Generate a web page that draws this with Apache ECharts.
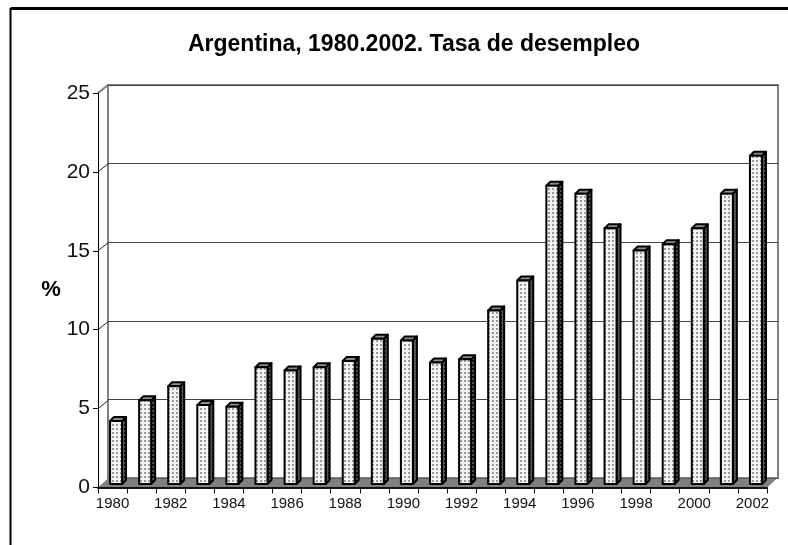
<!DOCTYPE html>
<html>
<head>
<meta charset="utf-8">
<style>
html, body { margin: 0; background: #fff; }
#chart { width: 788px; height: 545px; }
</style>
<script src="https://cdn.jsdelivr.net/npm/echarts@6/dist/echarts.min.js"></script>
</head>
<body>
<div id="chart"></div>
<script>
const years = ['1980','1981','1982','1983','1984','1985','1986','1987','1988','1989','1990','1991',
  '1992','1993','1994','1995','1996','1997','1998','1999','2000','2001','2002']
const desempleo = [4.0,5.3,6.2,5.0,4.9,7.4,7.2,7.4,7.8,9.2,9.1,7.7,7.9,11.0,12.9,18.9,18.4,16.2,14.8,15.2,16.2,18.4,20.8]
const yTicks = [5,10,15,20,25]

// 3D look of the old spreadsheet chart
const DEPTH_X = 10
const DEPTH_Y = 8
const FONT = '"Liberation Sans", Arial, sans-serif'

function dots (bg, dot) {
  const c = document.createElement('canvas')
  c.width = 4
  c.height = 4
  const ctx = c.getContext('2d')
  ctx.fillStyle = bg
  ctx.fillRect(0, 0, 4, 4)
  ctx.fillStyle = dot
  ctx.fillRect(0, 0, 2, 2)
  return { image: c, repeat: 'repeat' }
}
const frontFill = dots('#f2f2f2', '#999999')
const sideFill = dots('#555555', '#111111')

function renderBar (params, api) {
  const i = api.value(0)
  const top = api.coord([i, api.value(1)])
  const base = api.coord([i, 0])
  const x = top[0] - 2.5
  const w = 12
  const d = 4
  const yTop = top[1] - 3.5
  const yBase = base[1] - 3.5
  const line = { stroke: '#000', lineWidth: 2, lineJoin: 'round' }
  return {
    type: 'group',
    children: [
      {
        type: 'polygon',
        shape: { points: [[x + w, yTop], [x + w + d, yTop - d], [x + w + d, yBase - d], [x + w, yBase]] },
        style: { fill: sideFill, ...line }
      },
      {
        type: 'polygon',
        shape: { points: [[x, yTop], [x + d, yTop - d], [x + w + d, yTop - d], [x + w, yTop]] },
        style: { fill: '#8c8c8c', ...line }
      },
      {
        type: 'rect',
        shape: { x: x, y: yTop, width: w, height: yBase - yTop },
        style: { fill: frontFill, ...line }
      }
    ]
  }
}

function renderFloor (params, api) {
  const g = params.coordSys
  const yb = api.coord([0, 0])[1]
  return {
    type: 'polygon',
    shape: {
      points: [[g.x, yb], [g.x + g.width, yb], [g.x + g.width + DEPTH_X, yb - DEPTH_Y - 1], [g.x + DEPTH_X, yb - DEPTH_Y - 1]]
    },
    style: { fill: '#808080' }
  }
}

function renderDiagonal (params, api) {
  const g = params.coordSys
  const v = api.value(1)
  const y = api.coord([0, v])[1]
  const isTop = v === 25
  return {
    type: 'line',
    shape: { x1: g.x, y1: y, x2: g.x + DEPTH_X, y2: y - DEPTH_Y },
    style: { stroke: isTop ? '#808080' : '#222', lineWidth: isTop ? 2 : 1 }
  }
}

const chart = echarts.init(document.getElementById('chart'), null, { renderer: 'canvas' })

chart.setOption({
  animation: false,
  backgroundColor: '#fff',
  title: {
    text: 'Argentina, 1980.2002. Tasa de desempleo',
    left: 409,
    top: 28,
    textAlign: 'center',
    textStyle: { fontFamily: FONT, fontWeight: 'bold', fontSize: 23, color: '#000' }
  },
  graphic: [
    { type: 'line', shape: { x1: 10.5, y1: 8.5, x2: 788, y2: 8.5 }, style: { stroke: '#000', lineWidth: 3 } },
    { type: 'line', shape: { x1: 10.5, y1: 8, x2: 10.5, y2: 545 }, style: { stroke: '#000', lineWidth: 2 } }
  ],
  grid: [
    { left: 98, top: 93, width: 669, height: 394.5 },
    { left: 108, top: 85, width: 670, height: 393, show: true, borderColor: '#808080', borderWidth: 2, backgroundColor: '#fff' }
  ],
  xAxis: [
    {
      type: 'category',
      data: years,
      gridIndex: 0,
      z: 5,
      axisLine: { lineStyle: { color: '#111', width: 2 } },
      axisTick: { show: true, interval: 0, length: 6, alignWithLabel: false, lineStyle: { color: '#111' } },
      axisLabel: { interval: 1, margin: 9, fontFamily: FONT, fontSize: 15, color: '#111' }
    },
    {
      type: 'category',
      data: years,
      gridIndex: 1,
      show: false
    }
  ],
  yAxis: [
    {
      type: 'value',
      gridIndex: 0,
      min: 0,
      max: 25,
      interval: 5,
      z: 5,
      name: '%',
      nameLocation: 'middle',
      nameRotate: 0,
      nameGap: 35,
      nameTextStyle: { fontFamily: FONT, fontWeight: 'bold', fontSize: 22, color: '#000' },
      splitLine: { show: false },
      axisLine: { show: true, lineStyle: { color: '#000', width: 1 } },
      axisTick: { show: true, length: 5, lineStyle: { color: '#000' } },
      axisLabel: { margin: 8, fontFamily: FONT, fontSize: 21, color: '#111' }
    },
    {
      type: 'value',
      gridIndex: 1,
      min: 0,
      max: 25,
      interval: 5,
      axisLabel: { show: false },
      axisTick: { show: false },
      axisLine: { show: false },
      splitLine: { show: true, lineStyle: { color: '#444', width: 1 } }
    }
  ],
  series: [
    {
      type: 'custom',
      name: 'piso',
      renderItem: renderFloor,
      xAxisIndex: 0,
      yAxisIndex: 0,
      clip: false,
      z: 1,
      data: [[0, 0]]
    },
    {
      type: 'custom',
      name: 'diagonales',
      renderItem: renderDiagonal,
      xAxisIndex: 0,
      yAxisIndex: 0,
      clip: false,
      z: 2,
      data: yTicks.map(t => [0, t])
    },
    {
      type: 'custom',
      name: 'Tasa de desempleo',
      renderItem: renderBar,
      xAxisIndex: 0,
      yAxisIndex: 0,
      clip: false,
      z: 6,
      encode: { x: 0, y: 1 },
      data: desempleo.map((v, i) => [i, v])
    }
  ]
})
</script>
</body>
</html>
